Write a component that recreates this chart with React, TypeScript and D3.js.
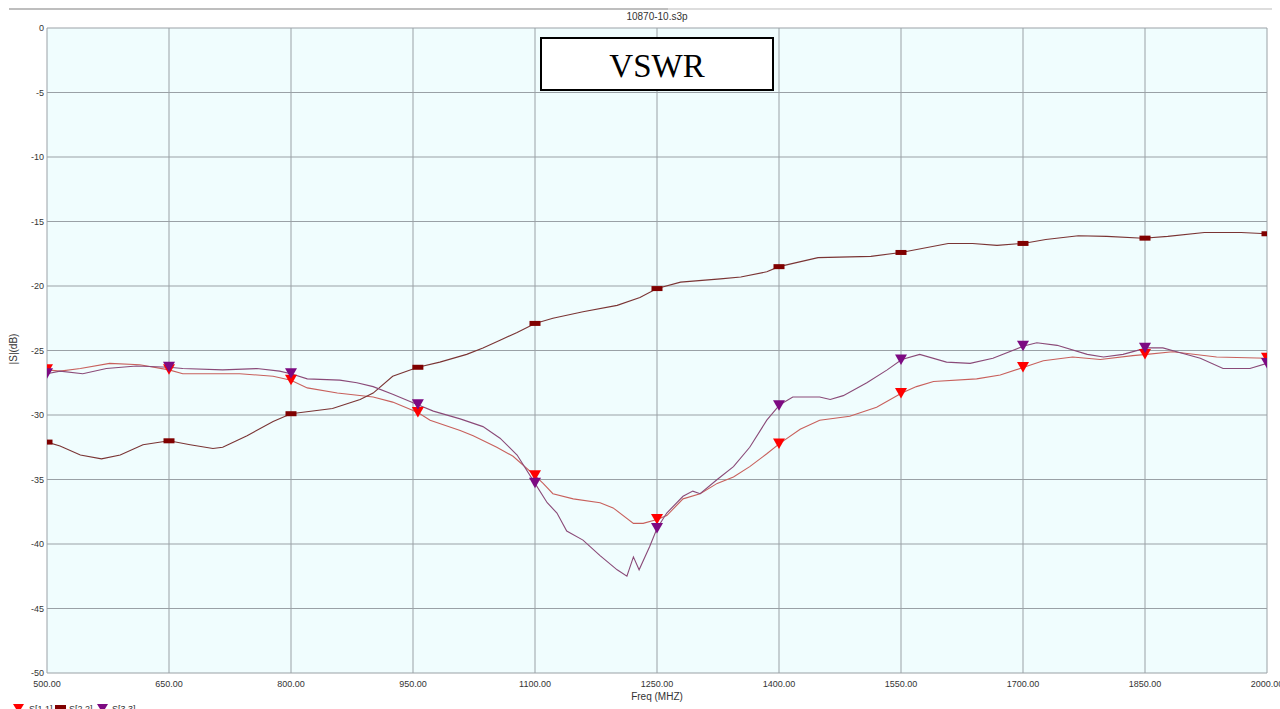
import React from "react";
import * as d3 from "d3";

const xTicks = [500, 650, 800, 950, 1100, 1250, 1400, 1550, 1700, 1850, 2000];
const yTicks = [0, -5, -10, -15, -20, -25, -30, -35, -40, -45, -50];
const markerFreqs = [500, 650, 800, 956, 1100, 1250, 1400, 1550, 1700, 1850, 2000];

const s11Freq = [500, 516, 541, 577, 614, 650, 667, 697, 737, 778, 800, 820, 857, 901, 925, 956, 971, 1008, 1024, 1053, 1073, 1100, 1110, 1122, 1147, 1180, 1196, 1221, 1233, 1250, 1262, 1282, 1303, 1324, 1344, 1364, 1385, 1401, 1426, 1450, 1487, 1520, 1551, 1569, 1590, 1643, 1672, 1701, 1725, 1761, 1795, 1835, 1852, 1884, 1938, 2000];
const s11Val = [-26.5, -26.6, -26.4, -26.0, -26.1, -26.5, -26.8, -26.8, -26.8, -27.0, -27.3, -27.9, -28.3, -28.6, -29.0, -29.8, -30.4, -31.2, -31.6, -32.5, -33.2, -34.7, -35.3, -36.1, -36.5, -36.8, -37.2, -38.4, -38.4, -38.1, -37.8, -36.5, -36.1, -35.3, -34.8, -34.0, -33.0, -32.2, -31.1, -30.4, -30.1, -29.4, -28.3, -27.8, -27.4, -27.2, -26.9, -26.3, -25.8, -25.5, -25.7, -25.4, -25.3, -25.1, -25.5, -25.6];

const s22Freq = [500, 516, 541, 567, 590, 618, 650, 676, 704, 716, 746, 778, 800, 851, 885, 901, 925, 956, 983, 1016, 1036, 1057, 1078, 1100, 1122, 1159, 1201, 1229, 1250, 1279, 1328, 1353, 1385, 1400, 1448, 1513, 1550, 1608, 1638, 1668, 1700, 1728, 1768, 1803, 1848, 1878, 1923, 1968, 2000];
const s22Val = [-32.1, -32.4, -33.1, -33.4, -33.1, -32.3, -32.0, -32.3, -32.6, -32.5, -31.6, -30.5, -29.9, -29.5, -28.8, -28.3, -27.0, -26.3, -25.9, -25.3, -24.8, -24.2, -23.6, -22.9, -22.5, -22.0, -21.5, -20.9, -20.2, -19.7, -19.45, -19.3, -18.9, -18.5, -17.8, -17.7, -17.4, -16.7, -16.7, -16.85, -16.7, -16.4, -16.1, -16.15, -16.3, -16.15, -15.85, -15.85, -15.95];

const s33Freq = [500, 516, 544, 573, 610, 650, 667, 716, 758, 786, 800, 820, 860, 881, 901, 925, 956, 975, 1008, 1036, 1057, 1078, 1100, 1115, 1127, 1139, 1159, 1180, 1201, 1213, 1221, 1228, 1241, 1250, 1262, 1282, 1294, 1303, 1324, 1344, 1364, 1385, 1401, 1417, 1450, 1463, 1479, 1508, 1533, 1551, 1573, 1606, 1635, 1663, 1701, 1717, 1742, 1779, 1799, 1823, 1852, 1872, 1889, 1918, 1946, 1979, 2000];
const s33Val = [-26.8, -26.6, -26.8, -26.4, -26.2, -26.3, -26.4, -26.5, -26.4, -26.6, -26.8, -27.2, -27.3, -27.5, -27.8, -28.4, -29.2, -29.7, -30.3, -30.9, -31.8, -33.1, -35.3, -36.8, -37.6, -39.0, -39.7, -40.9, -42.0, -42.5, -41.0, -42.0, -40.2, -38.8, -37.6, -36.3, -35.9, -36.1, -35.0, -34.0, -32.5, -30.4, -29.2, -28.6, -28.6, -28.8, -28.5, -27.5, -26.5, -25.7, -25.3, -25.9, -26.0, -25.6, -24.65, -24.4, -24.6, -25.3, -25.5, -25.3, -24.8, -24.8, -25.1, -25.6, -26.4, -26.4, -26.0];

const seriesNames = ["S[1,1]", "S[2,2]", "S[3,3]"];

const W = 1280;
const H = 709;
const left = 47;
const right = 1267;
const top = 28;
const bottom = 673;

const FONT = "'Liberation Sans', Arial, sans-serif";

function interp(fs: number[], vs: number[], f: number) {
  const i = d3.bisectLeft(fs, f);
  if (i <= 0) return vs[0];
  if (i >= fs.length) return vs[vs.length - 1];
  const f0 = fs[i - 1], f1 = fs[i];
  const t = (f - f0) / (f1 - f0);
  return vs[i - 1] + t * (vs[i] - vs[i - 1]);
}

export default function App() {
  const x = d3.scaleLinear().domain([500, 2000]).range([left, right]);
  const y = d3.scaleLinear().domain([-50, 0]).range([bottom, top]);
  const line = d3
    .line<[number, number]>()
    .x((d) => x(d[0]))
    .y((d) => y(d[1]));

  const series = [
    { name: seriesNames[0], f: s11Freq, v: s11Val, line: "#c8605c", marker: "#ff0000", shape: "tri" },
    { name: seriesNames[1], f: s22Freq, v: s22Val, line: "#7a3434", marker: "#800000", shape: "rect" },
    { name: seriesNames[2], f: s33Freq, v: s33Val, line: "#8a4a78", marker: "#7d0a82", shape: "tri" },
  ];

  const tri = (cx: number, cy: number) =>
    `M${cx - 6},${cy - 5.5} L${cx + 6},${cy - 5.5} L${cx},${cy + 5} Z`;

  return (
    <div style={{ position: "fixed", left: 0, top: 0, width: W, height: H, background: "#fff" }}>
      <svg width={W} height={H} style={{ display: "block" }}>
        <defs>
          <clipPath id="plotClip">
            <rect x={left} y={top} width={right - left} height={bottom - top} />
          </clipPath>
        </defs>
        <rect x={0} y={0} width={W} height={H} fill="#ffffff" />
        {/* top separator */}
        <line x1={9} x2={668} y1={9} y2={9} stroke="#a9a9a9" strokeWidth={1.5} />
        <line x1={668} x2={1272} y1={9} y2={9} stroke="#d2d2d2" strokeWidth={1.5} />
        <text x={657} y={20} textAnchor="middle" fontFamily={FONT} fontSize={10} fill="#333">
          10870-10.s3p
        </text>

        {/* plot background */}
        <rect x={left} y={top} width={right - left} height={bottom - top} fill="#f0fdfe" />

        {/* grid */}
        {xTicks.map((t) => (
          <line key={"gx" + t} x1={x(t)} x2={x(t)} y1={top} y2={bottom} stroke="#9aa1a6" strokeWidth={1} />
        ))}
        {yTicks.map((t) => (
          <line key={"gy" + t} x1={left} x2={right} y1={y(t)} y2={y(t)} stroke="#9aa1a6" strokeWidth={1} />
        ))}

        {/* tick labels */}
        {yTicks.map((t) => (
          <text key={"ty" + t} x={44} y={y(t) + 3} textAnchor="end" fontFamily={FONT} fontSize={9} fill="#333">
            {t}
          </text>
        ))}
        {xTicks.map((t) => (
          <text key={"tx" + t} x={x(t)} y={687} textAnchor="middle" fontFamily={FONT} fontSize={9} fill="#333">
            {t.toFixed(2)}
          </text>
        ))}
        <text x={657} y={700} textAnchor="middle" fontFamily={FONT} fontSize={10} fill="#333">
          Freq (MHZ)
        </text>
        <text
          transform={`translate(17,349) rotate(-90)`}
          textAnchor="middle"
          fontFamily={FONT}
          fontSize={10}
          fill="#333"
        >
          |S|(dB)
        </text>

        {/* curves */}
        <g clipPath="url(#plotClip)">
          {series.map((s) => (
            <path
              key={"l" + s.name}
              d={line(s.f.map((f, i) => [f, s.v[i]] as [number, number])) || ""}
              fill="none"
              stroke={s.line}
              strokeWidth={1.1}
            />
          ))}
          {series.map((s) =>
            markerFreqs.map((mf) => {
              const cx = x(mf);
              const cy = y(interp(s.f, s.v, mf));
              return s.shape === "tri" ? (
                <path key={s.name + mf} d={tri(cx, cy)} fill={s.marker} />
              ) : (
                <rect key={s.name + mf} x={cx - 5.5} y={cy - 2.5} width={11} height={5} fill={s.marker} />
              );
            })
          )}
        </g>

        {/* VSWR box */}
        <rect x={541} y={38} width={232} height={52} fill="#ffffff" stroke="#000" strokeWidth={2} />
        <text x={657} y={77} textAnchor="middle" fontFamily="'Liberation Serif', 'Times New Roman', serif" fontSize={33} fill="#000">
          VSWR
        </text>

        {/* legend */}
        <path d="M13,704 L24,704 L18.5,713 Z" fill="#ff0000" />
        <text x={29} y={711.5} fontFamily={FONT} fontSize={9} fill="#333">{seriesNames[0]}</text>
        <rect x={55} y={705} width={11} height={5} fill="#800000" />
        <text x={69} y={711.5} fontFamily={FONT} fontSize={9} fill="#333">{seriesNames[1]}</text>
        <path d="M97,704 L108,704 L102.5,713 Z" fill="#7d0a82" />
        <text x={112} y={711.5} fontFamily={FONT} fontSize={9} fill="#333">{seriesNames[2]}</text>
      </svg>
    </div>
  );
}
